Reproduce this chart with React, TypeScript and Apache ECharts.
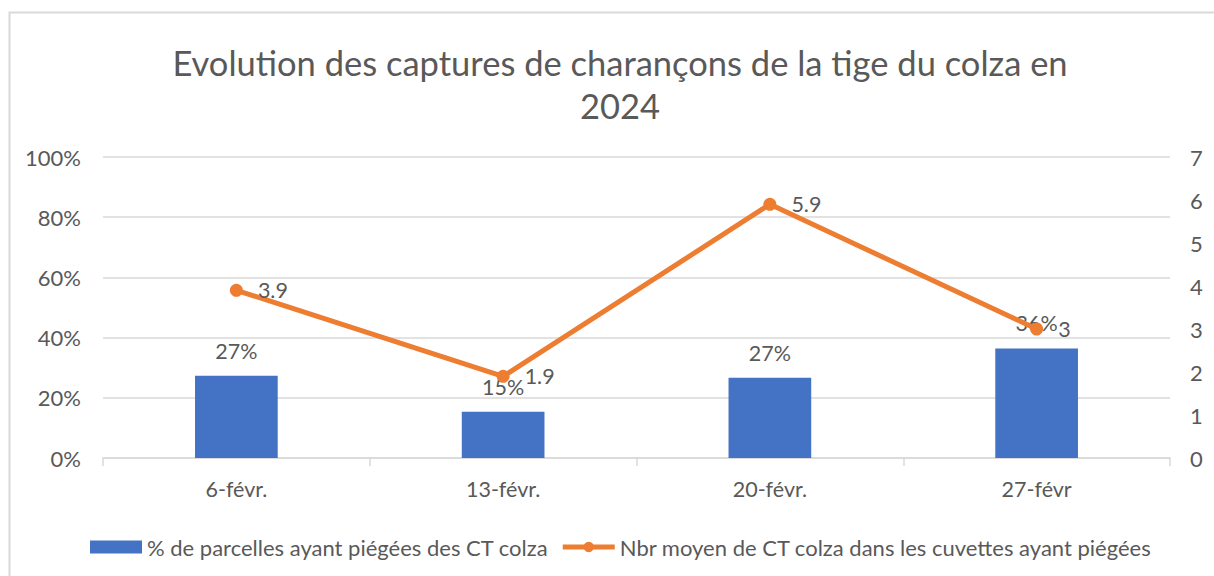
import React, { useEffect, useRef } from "react";
import * as echarts from "echarts";

const titleText = "Evolution des captures de charançons de la tige du colza en\n2024";
const categories = ["6-févr.", "13-févr.", "20-févr.", "27-févr"];
const barName = "% de parcelles ayant piégées des CT colza";
const lineName = "Nbr moyen de CT colza dans les cuvettes ayant piégées";
const barValues = [0.273, 0.154, 0.267, 0.364];
const lineValues = [3.9, 1.9, 5.9, 3];
const leftTicks = { min: 0, max: 1, interval: 0.2 };
const rightTicks = { min: 0, max: 7, interval: 1 };

const FONT = "Lato";
const TXT = "#595959";
const GRID = "#d9d9d9";

export default function App() {
  const ref = useRef<HTMLDivElement>(null);
  useEffect(() => {
    if (!ref.current) return;
    const chart = echarts.init(ref.current, null, { renderer: "svg" });
    chart.setOption({
      animation: false,
      backgroundColor: "#fff",
      textStyle: { fontFamily: FONT, color: TXT },
      graphic: [
        {
          type: "rect",
          silent: true,
          z: -10,
          shape: { x: 9.5, y: 12.5, width: 1400, height: 800 },
          style: { fill: "none", stroke: GRID, lineWidth: 2 },
        },
      ],
      title: {
        text: titleText,
        left: 615,
        top: 36,
        textAlign: "center",
        textStyle: {
          fontFamily: FONT,
          fontSize: 34.5,
          fontWeight: "normal",
          color: TXT,
          lineHeight: 43,
        },
      },
      legend: {
        left: 85,
        top: 531,
        itemWidth: 52,
        itemHeight: 13,
        itemGap: 12,
        lineStyle: { width: 5 },
        textStyle: { fontFamily: FONT, fontSize: 22, color: TXT },
        data: [{ name: barName, icon: "rect" }, { name: lineName }],
      },
      grid: { left: 103, right: 44, top: 157, bottom: 118, containLabel: false },
      xAxis: {
        type: "category",
        data: categories,
        axisLine: { lineStyle: { color: GRID, width: 1.5 } },
        axisTick: { show: true, alignWithLabel: false, length: 8, lineStyle: { color: GRID, width: 1.5 } },
        axisLabel: { fontFamily: FONT, fontSize: 21.5, color: TXT, margin: 20 },
      },
      yAxis: [
        {
          type: "value",
          ...leftTicks,
          axisLine: { show: false },
          axisTick: { show: false },
          splitLine: { lineStyle: { color: GRID, width: 1.5 } },
          axisLabel: {
            fontFamily: FONT,
            fontSize: 22,
            color: TXT,
            margin: 22,
            formatter: (v: number) => `${Math.round(v * 100)}%`,
          },
        },
        {
          type: "value",
          ...rightTicks,
          position: "right",
          axisLine: { show: false },
          axisTick: { show: false },
          splitLine: { show: false },
          axisLabel: { fontFamily: FONT, fontSize: 22, color: TXT, margin: 20 },
        },
      ],
      series: [
        {
          name: barName,
          type: "bar",
          data: barValues,
          yAxisIndex: 0,
          barWidth: "31%",
          itemStyle: { color: "#4472C4" },
          label: {
            show: true,
            position: "top",
            distance: 14,
            fontFamily: FONT,
            fontSize: 21.5,
            color: TXT,
            formatter: (p: any) => `${Math.round(p.value * 100)}%`,
          },
        },
        {
          name: lineName,
          type: "line",
          data: lineValues,
          yAxisIndex: 1,
          symbol: "circle",
          symbolSize: 13,
          itemStyle: { color: "#ED7D31" },
          lineStyle: { color: "#ED7D31", width: 5 },
          label: {
            show: true,
            position: "right",
            distance: 15,
            fontFamily: FONT,
            fontSize: 21.5,
            color: TXT,
          },
        },
      ],
    });
    return () => chart.dispose();
  }, []);
  return (
    <div style={{ position: "fixed", left: 0, top: 0, width: 1214, height: 576, overflow: "hidden" }}>
      <div ref={ref} style={{ width: 1214, height: 576 }} />
    </div>
  );
}
